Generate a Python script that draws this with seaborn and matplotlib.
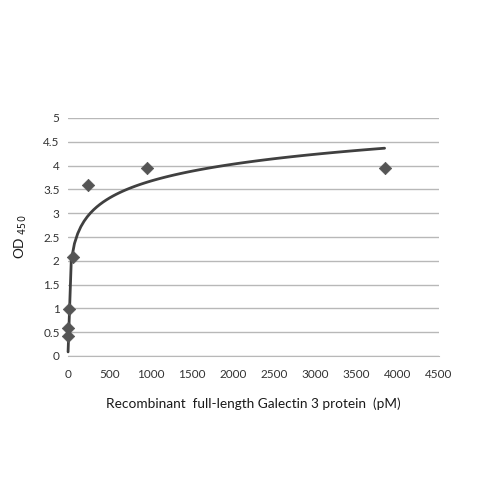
import numpy as np
import pandas as pd
import matplotlib
matplotlib.use("Agg")
import matplotlib.pyplot as plt
import seaborn as sns

# serial 4-fold dilutions of the protein (pM) and measured OD450
conc_pm = [0.9375, 3.75, 15, 60, 240, 960, 3840]
od_450 = [0.43, 0.58, 0.98, 2.07, 3.60, 3.96, 3.96]
x_ticks = [0, 500, 1000, 1500, 2000, 2500, 3000, 3500, 4000, 4500]
y_ticks = [0, 0.5, 1, 1.5, 2, 2.5, 3, 3.5, 4, 4.5, 5]

df = pd.DataFrame({"conc": conc_pm, "od": od_450})

sns.set_style("white")
plt.rcParams["font.family"] = ["Lato", "DejaVu Sans"]

fig = plt.figure(figsize=(5, 5), dpi=100)
ax = fig.add_axes([0.136, 0.288, 0.742, 0.476])

# logarithmic trendline, like the spreadsheet one
sns.regplot(data=df, x="conc", y="od", logx=True, ci=None, scatter=False,
            line_kws={"color": "#404040", "lw": 2.0, "clip_on": False}, ax=ax)
sns.scatterplot(data=df, x="conc", y="od", marker="D", s=40, color="#555555",
                edgecolor="#555555", zorder=3, clip_on=False, ax=ax)

ax.set_xlim(0, 4500)
ax.set_ylim(0, 5)
ax.set_xticks(x_ticks)
ax.set_yticks(y_ticks)
ax.set_yticklabels([f"{v:g}" for v in y_ticks])
ax.yaxis.grid(True, color="#b8b8b8", lw=1.0)
ax.set_axisbelow(True)

for side in ["top", "right", "left"]:
    ax.spines[side].set_visible(False)
ax.spines["bottom"].set_color("#b8b8b8")
ax.tick_params(axis="x", length=4, color="#b8b8b8", labelsize=8.5, labelcolor="#333333", pad=5)
ax.tick_params(axis="y", length=0, labelsize=8.5, labelcolor="#333333", pad=6)

ax.set_xlabel("Recombinant  full-length Galectin 3 protein  (pM)", fontsize=9.8,
              color="#1a1a1a", labelpad=13)
ax.set_ylabel(r"OD $_{450}$", fontsize=9.8, color="#1a1a1a", labelpad=10)

fig.savefig("out.png", dpi=100)
plt.close(fig)
